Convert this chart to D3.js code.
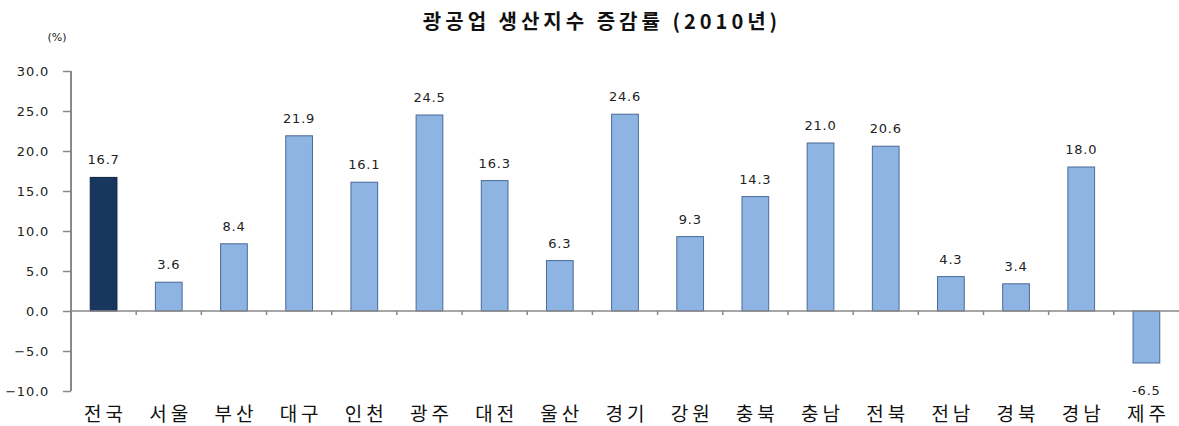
<!DOCTYPE html>
<html><head><meta charset="utf-8">
<script src="https://cdn.jsdelivr.net/npm/d3@7/dist/d3.min.js"></script>
<style>body{margin:0;background:#fff;} svg{display:block;}</style>
</head><body>
<svg id="c" width="1179" height="426"></svg>
<script>
const categories = ["전국","서울","부산","대구","인천","광주","대전","울산","경기","강원","충북","충남","전북","전남","경북","경남","제주"];
const values = [16.7,3.6,8.4,21.9,16.1,24.5,16.3,6.3,24.6,9.3,14.3,21.0,20.6,4.3,3.4,18.0,-6.5];
const yTicks = [30,25,20,15,10,5,0,-5,-10];
const title = "광공업 생산지수  증감률 (2010년)";
const unit = "(%)";

(function(){
const svg = d3.select("#c");
const pL = 71, pR = 1179, pT = 71, pB = 391;
const x = d3.scaleBand().domain(categories).range([pL, pR]).paddingInner(0.59).paddingOuter(0.295);
const xb = d3.scaleBand().domain(categories).range([pL, pR]);
const y = d3.scaleLinear().domain([-10, 30]).range([pB, pT]);
const font = "'Noto Sans CJK KR','Noto Sans',sans-serif";
const nfont = "'DejaVu Sans',sans-serif";

svg.append("text").attr("x", 602).attr("y", 29).attr("text-anchor","middle")
  .attr("font-family", font).attr("font-weight","bold").attr("font-size",20)
  .attr("letter-spacing",4).attr("fill","#111").text(title);
svg.append("text").attr("x", 57).attr("y", 41).attr("text-anchor","middle")
  .attr("font-family", nfont).attr("font-size",11).attr("fill","#222").text(unit);

const ya = svg.append("g").attr("transform",`translate(${pL},0)`)
  .call(d3.axisLeft(y).tickValues(yTicks).tickFormat(d3.format(".1f")).tickSize(8).tickPadding(14));
ya.select(".domain").attr("stroke","#888").attr("stroke-width",2).attr("d",`M0,${pT}V${pB}`);
ya.selectAll(".tick line").attr("stroke","#888").attr("stroke-width",1.5);
ya.selectAll(".tick text").attr("font-family",nfont).attr("font-size",13).attr("letter-spacing",0.8).attr("fill","#222");

svg.append("g").selectAll("rect").data(values).join("rect")
  .attr("x",(d,i)=>x(categories[i]))
  .attr("y",d=>y(Math.max(0,d)))
  .attr("width",x.bandwidth())
  .attr("height",d=>Math.abs(y(d)-y(0)))
  .attr("fill",(d,i)=>i===0?"#17375E":"#8DB4E2")
  .attr("stroke",(d,i)=>i===0?"#0f2540":"#4a6a96").attr("stroke-width",1);

svg.append("line").attr("x1",pL).attr("x2",pR).attr("y1",y(0)).attr("y2",y(0)).attr("stroke","#888").attr("stroke-width",1.5);
svg.append("g").selectAll("line").data(categories.slice(1)).join("line")
  .attr("x1",d=>xb(d)).attr("x2",d=>xb(d)).attr("y1",y(0)).attr("y2",y(0)+4)
  .attr("stroke","#888").attr("stroke-width",1.5);

svg.append("g").selectAll("text").data(values).join("text")
  .attr("x",(d,i)=>x(categories[i])+x.bandwidth()/2)
  .attr("y",d=>d>=0?y(d)-13:y(d)+32)
  .attr("text-anchor","middle").attr("font-family",nfont).attr("font-size",13)
  .attr("letter-spacing",0.8).attr("fill","#222")
  .text(d=>d.toFixed(1));

svg.append("g").selectAll("text").data(categories).join("text")
  .attr("x",d=>xb(d)+xb.bandwidth()/2+2).attr("y",421)
  .attr("text-anchor","middle").attr("font-family",font).attr("font-size",19)
  .attr("letter-spacing",4).attr("fill","#111")
  .text(d=>d);
})();
</script>
</body></html>
